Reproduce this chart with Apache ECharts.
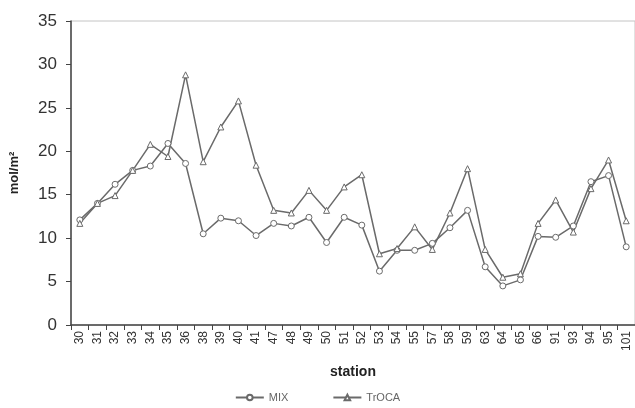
<!DOCTYPE html>
<html>
<head>
<meta charset="utf-8">
<script src="https://cdn.jsdelivr.net/npm/echarts@6/dist/echarts.min.js"></script>
<style>
  html, body { margin: 0; padding: 0; background: #fff; }
  #chart { width: 635px; height: 408px; }
</style>
</head>
<body>
<div id="chart"></div>
<script>
const stations = ['30', '31', '32', '33', '34', '35', '36', '38', '39', '40', '41', '47', '48', '49', '50', '51',
  '52', '53', '54', '55', '57', '58', '59', '63', '64', '65', '66', '91', '93', '94', '95', '101']

const mix = [12.1, 14.0, 16.2, 17.8, 18.3, 20.9, 18.6, 10.5, 12.3, 12.0, 10.3, 11.7, 11.4, 12.4, 9.5, 12.4,
  11.5, 6.2, 8.6, 8.6, 9.4, 11.2, 13.2, 6.7, 4.5, 5.2, 10.2, 10.1, 11.4, 16.5, 17.2, 9.0]

const troca = [11.7, 14.0, 14.9, 17.8, 20.8, 19.4, 28.8, 18.8, 22.8, 25.8, 18.4, 13.2, 12.9, 15.5, 13.2, 15.9,
  17.3, 8.2, 8.8, 11.3, 8.7, 12.9, 18.0, 8.7, 5.5, 5.9, 11.7, 14.4, 10.7, 15.7, 19.0, 12.0]

const seriesNames = ['MIX', 'TrOCA']
const yMin = 0
const yMax = 35
const yStep = 5

const FONT = "'Liberation Sans', Arial, sans-serif"
const LINE = '#6a6a6a'

const chart = echarts.init(document.getElementById('chart'))

function lineSeries(name, data, symbol) {
  return {
    name,
    type: 'line',
    data,
    symbol,
    symbolSize: 6,
    lineStyle: { color: LINE, width: 1.5 },
    itemStyle: { color: '#fff', borderColor: LINE, borderWidth: 1 },
  }
}

chart.setOption({
  animation: false,
  grid: {
    left: 70, top: 21, bottom: 83, width: 568,
    show: true, borderColor: '#c4c4c4', borderWidth: 1,
  },
  legend: {
    bottom: 0,
    left: 'center',
    itemGap: 44,
    itemWidth: 28,
    itemHeight: 7,
    textStyle: { fontFamily: FONT, fontSize: 11, color: '#666' },
    data: seriesNames,
  },
  xAxis: {
    type: 'category',
    data: stations,
    boundaryGap: true,
    name: 'station',
    nameLocation: 'middle',
    nameGap: 40,
    nameTextStyle: { fontFamily: FONT, fontSize: 14, fontWeight: 'bold', color: '#222' },
    axisLine: { lineStyle: { color: '#444', width: 1.5 } },
    axisTick: { show: true, length: 5, lineStyle: { color: '#444' } },
    axisLabel: { rotate: 90, interval: 0, fontFamily: FONT, fontSize: 12, color: '#333', margin: 6 },
    splitLine: { show: false },
  },
  yAxis: {
    type: 'value',
    min: yMin,
    max: yMax,
    interval: yStep,
    name: 'mol/m²',
    nameLocation: 'middle',
    nameGap: 50,
    nameTextStyle: { fontFamily: FONT, fontSize: 13, fontWeight: 'bold', color: '#222' },
    axisLine: { show: true, lineStyle: { color: '#444', width: 1.5 } },
    axisTick: { show: true, length: 5, lineStyle: { color: '#444' } },
    axisLabel: { fontFamily: FONT, fontSize: 17, color: '#333', margin: 14 },
    splitLine: { show: false },
  },
  series: [
    lineSeries(seriesNames[0], mix, 'circle'),
    lineSeries(seriesNames[1], troca, 'triangle'),
  ],
})
</script>
</body>
</html>
